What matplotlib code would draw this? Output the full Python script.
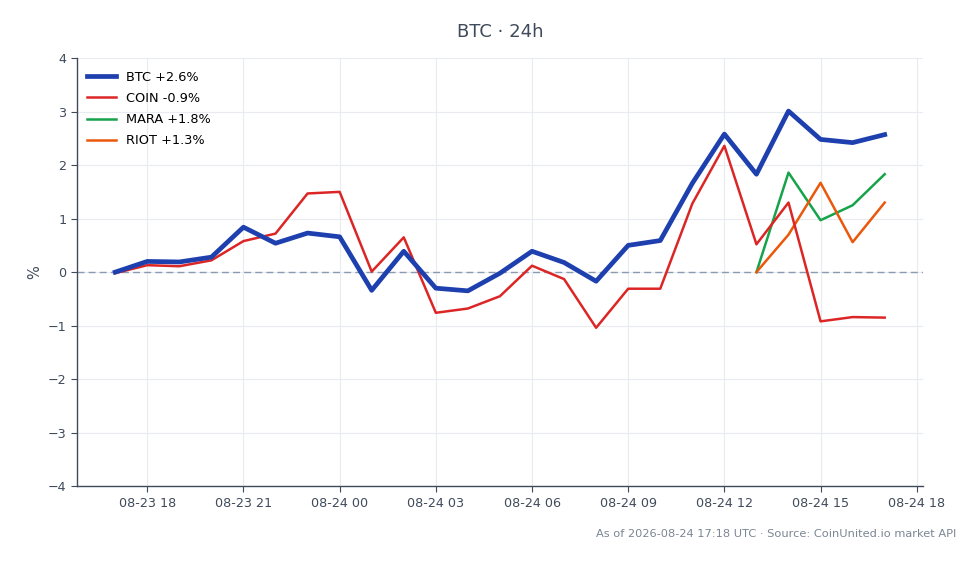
import numpy as np
import pandas as pd
import matplotlib
matplotlib.use("Agg")
import matplotlib.pyplot as plt
import matplotlib.dates as mdates

#--------------------------------------------------------------------------------------------------
# hourly % change over the last 24h

times = pd.date_range("2026-08-23 17:00", "2026-08-24 17:00", freq="h")

btc = [0.00, 0.20, 0.19, 0.28, 0.84, 0.54, 0.73, 0.66, -0.34, 0.39, -0.30, -0.35, -0.02,
       0.39, 0.18, -0.17, 0.50, 0.59, 1.66, 2.58, 1.83, 3.01, 2.48, 2.42, 2.57]
coin = [-0.02, 0.13, 0.11, 0.22, 0.58, 0.72, 1.47, 1.50, 0.01, 0.65, -0.76, -0.68, -0.45,
        0.12, -0.13, -1.04, -0.31, -0.31, 1.28, 2.36, 0.52, 1.30, -0.92, -0.84, -0.85]
mara = [0.00, 1.86, 0.97, 1.25, 1.83]
riot = [0.00, 0.70, 1.67, 0.56, 1.30]
miners_times = times[-5:]

labels = ["BTC +2.6%", "COIN -0.9%", "MARA +1.8%", "RIOT +1.3%"]

#--------------------------------------------------------------------------------------------------

ink = "#3f4a5a"

fig = plt.figure(figsize=(9.8, 5.64), dpi=100)
ax = fig.add_axes([0.0783, 0.138, 0.8637, 0.759])

ax.plot(times, btc, color="#1e40af", lw=3.4, label=labels[0], zorder=5)
ax.plot(times, coin, color="#dc2626", lw=1.8, label=labels[1], zorder=4)
ax.plot(miners_times, mara, color="#16a34a", lw=1.8, label=labels[2], zorder=3)
ax.plot(miners_times, riot, color="#ea580c", lw=1.8, label=labels[3], zorder=3)

ax.axhline(0, color="#8a9ab0", lw=1.0, ls=(0, (5, 3)), zorder=1)

ax.set_ylim(-4, 4)
ax.set_yticks(range(-4, 5))
ax.xaxis.set_major_locator(mdates.HourLocator(byhour=range(0, 24, 3)))
ax.xaxis.set_major_formatter(mdates.DateFormatter("%m-%d %H"))

ax.grid(True, color="#e8ebef", lw=0.8)
ax.set_axisbelow(True)
for s in ["top", "right"]:
    ax.spines[s].set_visible(False)
for s in ["left", "bottom"]:
    ax.spines[s].set_color(ink)
    ax.spines[s].set_linewidth(1.0)
ax.tick_params(colors=ink, labelsize=9.2, length=4)
ax.set_ylabel("%", color=ink, fontsize=10.5)

ax.set_title("BTC · 24h", color=ink, fontsize=13, pad=15)
ax.legend(loc="upper left", bbox_to_anchor=(-0.003, 1.0), frameon=False, fontsize=9.3,
          handlelength=2.2, labelspacing=0.62, borderaxespad=0.6)

fig.text(0.976, 0.053, "As of 2026-08-24 17:18 UTC · Source: CoinUnited.io market API",
         ha="right", va="center", fontsize=8.2, color="#7b8694")

plt.savefig("out.png", dpi=100)
